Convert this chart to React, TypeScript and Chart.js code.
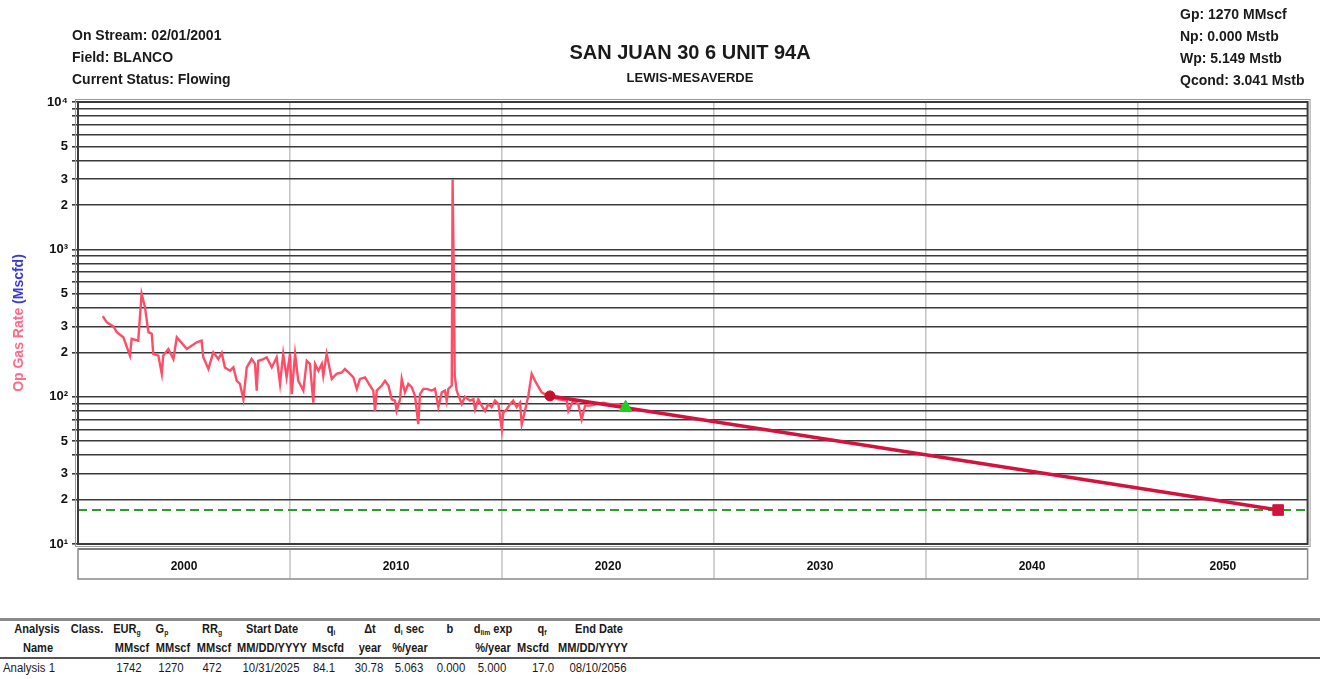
import React, { useEffect, useRef } from 'react';
import { Chart, registerables } from 'chart.js';

Chart.register(...registerables);

// ---------- data ----------
const histYears = [
  2001.17, 2001.35, 2001.67, 2001.83, 2002.14, 2002.45, 2002.53, 2002.84, 2003.0, 2003.16,
  2003.32, 2003.48, 2003.55, 2003.79, 2003.95, 2004.02, 2004.26, 2004.5, 2004.66, 2005.13,
  2005.6, 2005.83, 2005.91, 2006.15, 2006.38, 2006.62, 2006.78, 2006.93, 2007.17, 2007.33,
  2007.49, 2007.64, 2007.8, 2007.96, 2008.19, 2008.35, 2008.43, 2008.5, 2008.74, 2008.9,
  2009.14, 2009.37, 2009.53, 2009.68, 2009.84, 2010.0, 2010.08, 2010.24, 2010.39, 2010.55,
  2010.63, 2010.79, 2010.94, 2011.1, 2011.18, 2011.34, 2011.5, 2011.57, 2011.73, 2011.97,
  2012.2, 2012.44, 2012.59, 2012.83, 2012.99, 2013.15, 2013.3, 2013.54, 2013.77, 2013.93,
  2014.01, 2014.09, 2014.33, 2014.48, 2014.64, 2014.8, 2014.95, 2015.03, 2015.19, 2015.27,
  2015.42, 2015.58, 2015.74, 2015.9, 2016.05, 2016.13, 2016.29, 2016.45, 2016.68, 2016.84,
  2017.0, 2017.16, 2017.31, 2017.39, 2017.47, 2017.63, 2017.67, 2017.73, 2017.77, 2017.86,
  2018.1, 2018.25, 2018.49, 2018.65, 2018.73, 2018.88, 2019.04, 2019.2, 2019.35, 2019.51,
  2019.67, 2019.83, 2019.99, 2020.06, 2020.22, 2020.38, 2020.53, 2020.69, 2020.85, 2020.93,
  2021.08, 2021.24, 2021.4, 2021.56, 2021.87, 2022.08, 2022.26, 2022.66, 2023.05, 2023.13,
  2023.36, 2023.6, 2023.76, 2023.92, 2024.15, 2024.47, 2024.78, 2025.09, 2025.49, 2025.66,
];
const histRates = [
  352, 320, 300, 274, 253, 190, 247, 240, 500, 405,
  274, 267, 195, 190, 143, 190, 211, 180, 253, 211,
  234, 240, 185, 154, 200, 180, 198, 158, 150, 158,
  128, 122, 96, 158, 180, 167, 110, 175, 180, 185,
  158, 185, 122, 195, 135, 195, 104, 195, 128, 116,
  110, 175, 167, 91, 167, 150, 167, 139, 195, 132,
  143, 146, 154, 143, 135, 113, 132, 135, 119, 110,
  80, 110, 119, 128, 119, 96, 94, 80, 96, 132,
  107, 122, 116, 101, 65, 104, 113, 113, 110, 113,
  85, 107, 110, 94, 113, 119, 3000, 580, 140, 110,
  89, 100, 94, 96, 82, 96, 87, 80, 89, 85,
  94, 89, 60, 78, 82, 89, 94, 85, 91, 65,
  80, 101, 143, 128, 107, 103, 101, 96, 94, 80,
  94, 89, 70, 87, 87, 89, 91, 89, 89, 86,
];

// forecast (exponential decline) : fit start, forecast start, end
const fcYears = [2022.26, 2025.83, 2056.61];
const fcRates = [101.2, 84.1, 17.0];
const fitStart = { x: 2022.26, y: 101.2 };
const fcStart = { x: 2025.83, y: 84.1 };
const fcEnd = { x: 2056.61, y: 17.0 };
const econLimit = 17.0;

const xMin = 2000;
const xMax = 2058;
const gridYears = [2010, 2020, 2030, 2040, 2050];
const yearLabelPos = [2005, 2015, 2025, 2035, 2045, 2054];
const yearLabels = ['2000', '2010', '2020', '2030', '2040', '2050'];
const xTickValues = [2000, 2005, 2010, 2015, 2020, 2025, 2030, 2035, 2040, 2045, 2050, 2054];

const yTickValues = [
  10, 20, 30, 40, 50, 60, 70, 80, 90,
  100, 200, 300, 400, 500, 600, 700, 800, 900,
  1000, 2000, 3000, 4000, 5000, 6000, 7000, 8000, 9000, 10000,
];
const yTickLabels = [
  '10¹', '2', '3', '', '5', '', '', '', '',
  '10²', '2', '3', '', '5', '', '', '', '',
  '10³', '2', '3', '', '5', '', '', '', '', '10⁴',
];

const headerLeft = ['On Stream: 02/01/2001', 'Field: BLANCO', 'Current Status: Flowing'];
const headerRight = ['Gp: 1270 MMscf', 'Np: 0.000 Mstb', 'Wp: 5.149 Mstb', 'Qcond: 3.041 Mstb'];
const chartTitle = 'SAN JUAN 30 6 UNIT 94A';
const chartSubtitle = 'LEWIS-MESAVERDE';

type Cell = { t: string; s?: string; a?: string };
const tableHead1: Cell[] = [
  { t: 'Analysis' }, { t: 'Class.' }, { t: 'EUR', s: 'g' }, { t: 'G', s: 'p' }, { t: 'RR', s: 'g' },
  { t: 'Start Date' }, { t: 'q', s: 'i' }, { t: 'Δt' }, { t: 'd', s: 'i', a: ' sec' }, { t: 'b' },
  { t: 'd', s: 'lim', a: ' exp' }, { t: 'q', s: 'f' }, { t: 'End Date' },
];
const tableHead2 = ['Name', '', 'MMscf', 'MMscf', 'MMscf', 'MM/DD/YYYY', 'Mscfd', 'year', '%/year', '', '%/year', 'Mscfd', 'MM/DD/YYYY'];
const tableRow = ['Analysis 1', '', '1742', '1270', '472', '10/31/2025', '84.1', '30.78', '5.063', '0.000', '5.000', '17.0', '08/10/2056'];

// ---------- layout ----------
const head1X = [37, 87, 127, 162, 212, 272, 331, 370, 409, 450, 493, 542, 599];
const head2X = [38, 87, 132, 173, 214, 272, 328, 370, 410, 450, 493, 533, 593];
const rowX = [29, 87, 129, 171, 212, 271, 324, 369, 409, 451, 492, 543, 598];

const framePlugin = {
  id: 'frame',
  afterDraw(chart: any) {
    const { ctx, chartArea: a, scales } = chart;
    ctx.save();
    ctx.strokeStyle = '#9a9a9a';
    ctx.lineWidth = 1;
    ctx.strokeRect(a.left - 2.5, a.top - 2.5, a.right - a.left + 5, a.bottom - a.top + 5);
    ctx.strokeStyle = '#3a3a3a';
    ctx.lineWidth = 2;
    ctx.strokeRect(a.left, a.top, a.right - a.left, a.bottom - a.top);
    const bt = a.bottom + 5;
    const bb = a.bottom + 35;
    ctx.strokeStyle = '#c4c4c4';
    ctx.lineWidth = 1.5;
    gridYears.forEach((yr) => {
      const px = scales.x.getPixelForValue(yr);
      ctx.beginPath();
      ctx.moveTo(px, bt);
      ctx.lineTo(px, bb);
      ctx.stroke();
    });
    ctx.strokeStyle = '#555';
    ctx.lineWidth = 2;
    ctx.beginPath();
    ctx.moveTo(a.left, bt);
    ctx.lineTo(a.right, bt);
    ctx.stroke();
    ctx.strokeStyle = '#8a8a8a';
    ctx.lineWidth = 1.5;
    ctx.strokeRect(a.left, bt, a.right - a.left, bb - bt);
    ctx.restore();
  },
};

export default function App() {
  const ref = useRef<HTMLCanvasElement>(null);

  useEffect(() => {
    document.body.style.margin = '0';
    const canvas = ref.current;
    if (!canvas) return;
    const hist = histYears.map((x, i) => ({ x, y: histRates[i] }));
    const fc = fcYears.map((x, i) => ({ x, y: fcRates[i] }));
    const chart = new Chart(canvas, {
      type: 'line',
      data: {
        datasets: [
          {
            label: 'start',
            data: [fitStart],
            showLine: false,
            pointStyle: 'circle',
            pointRadius: 5,
            pointBackgroundColor: '#c3102c',
            pointBorderColor: '#c3102c',
            order: 0,
          },
          {
            label: 'fcstart',
            data: [fcStart],
            showLine: false,
            pointStyle: 'triangle',
            pointRadius: 7.5,
            pointBackgroundColor: '#22cc22',
            pointBorderColor: '#22cc22',
            order: 0,
          },
          {
            label: 'end',
            data: [fcEnd],
            showLine: false,
            pointStyle: 'rect',
            pointRadius: 7.5,
            pointBackgroundColor: '#d3123e',
            pointBorderColor: '#d3123e',
            order: 0,
          },
          {
            label: 'Forecast',
            data: fc,
            borderColor: '#d3123e',
            borderWidth: 3.5,
            pointRadius: 0,
            tension: 0,
            order: 1,
          },
          {
            label: 'Op Gas Rate',
            data: hist,
            borderColor: '#ff4d68',
            borderWidth: 2.4,
            pointRadius: 0,
            tension: 0,
            order: 2,
          },
          {
            label: 'Econ limit',
            data: [{ x: xMin, y: econLimit }, { x: xMax, y: econLimit }],
            borderColor: '#2f9a2f',
            borderWidth: 2,
            borderDash: [9, 5],
            pointRadius: 0,
            order: 3,
          },
        ],
      },
      options: {
        responsive: false,
        animation: false,
        devicePixelRatio: 1,
        layout: { padding: { left: 0, top: 102, right: 12.4, bottom: 10 } },
        plugins: { legend: { display: false }, tooltip: { enabled: false }, title: { display: false } },
        scales: {
          x: {
            type: 'linear',
            min: xMin,
            max: xMax,
            border: { display: false },
            afterBuildTicks: (s: any) => {
              s.ticks = xTickValues.map((v) => ({ value: v }));
            },
            afterFit: (s: any) => {
              s.height = 36;
            },
            grid: {
              drawTicks: false,
              lineWidth: 1.5,
              color: (c: any) =>
                c.tick && gridYears.includes(c.tick.value) ? '#c4c4c4' : 'rgba(0,0,0,0)',
            },
            ticks: {
              autoSkip: false,
              maxRotation: 0,
              padding: 15,
              color: '#111',
              font: { family: 'Arial, "Liberation Sans", sans-serif', size: 12, weight: 'bold' },
              callback: (v: any) => {
                const i = yearLabelPos.indexOf(Number(v));
                return i >= 0 ? yearLabels[i] : '';
              },
            },
          },
          y: {
            type: 'logarithmic',
            min: 10,
            max: 10000,
            border: { display: false },
            afterBuildTicks: (s: any) => {
              s.ticks = yTickValues.map((v) => ({ value: v }));
            },
            afterFit: (s: any) => {
              s.width = 78;
            },
            grid: {
              color: '#3a3a3a',
              lineWidth: 1.6,
              drawTicks: true,
              tickLength: 6,
            },
            ticks: {
              autoSkip: false,
              padding: 4,
              color: '#111',
              font: { family: 'Arial, "Liberation Sans", sans-serif', size: 13, weight: 'bold' },
              callback: (v: any) => {
                const i = yTickValues.indexOf(Number(v));
                return i >= 0 ? yTickLabels[i] : '';
              },
            },
          },
        },
      },
      plugins: [framePlugin],
    } as any);
    return () => chart.destroy();
  }, []);

  const font = 'Arial, "Liberation Sans", sans-serif';
  const abs = (x: number, y: number, extra: React.CSSProperties = {}): React.CSSProperties => ({
    position: 'absolute',
    left: x,
    top: y,
    whiteSpace: 'nowrap',
    ...extra,
  });
  const center = (
    cx: number,
    cy: number,
    h: number,
    extra: React.CSSProperties = {},
    sx = 1
  ): React.CSSProperties => ({
    position: 'absolute',
    left: cx,
    top: cy - h / 2,
    height: h,
    lineHeight: `${h}px`,
    transform: `translateX(-50%) scaleX(${sx})`,
    whiteSpace: 'nowrap',
    ...extra,
  });
  const headRowY = [629, 648];
  const dataRowY = 668;
  const subStyle: React.CSSProperties = { fontSize: 8, verticalAlign: 'baseline', position: 'relative', top: 2 };

  return (
    <div
      style={{
        position: 'fixed',
        left: 0,
        top: 0,
        width: 1320,
        height: 679,
        background: '#fff',
        overflow: 'hidden',
        fontFamily: font,
        color: '#1a1a1a',
      }}
    >
      <canvas ref={ref} width={1320} height={590} style={{ position: 'absolute', left: 0, top: 0, width: 1320, height: 590 }} />

      {headerLeft.map((t, i) => (
        <div key={'hl' + i} style={abs(72, 26 + i * 22, { fontSize: 14, fontWeight: 'bold', lineHeight: '18px' })}>
          {t}
        </div>
      ))}
      {headerRight.map((t, i) => (
        <div key={'hr' + i} style={abs(1180, 5 + i * 22, { fontSize: 14, fontWeight: 'bold', lineHeight: '18px' })}>
          {t}
        </div>
      ))}
      <div style={center(690, 52, 24, { fontSize: 20, fontWeight: 'bold' })}>{chartTitle}</div>
      <div style={center(690, 78, 16, { fontSize: 13, fontWeight: 'bold' })}>{chartSubtitle}</div>

      <div
        style={{
          position: 'absolute',
          left: 18 - 90,
          top: 323 - 9,
          width: 180,
          height: 18,
          lineHeight: '18px',
          textAlign: 'center',
          transform: 'rotate(-90deg)',
          fontSize: 14,
          fontWeight: 'bold',
          whiteSpace: 'nowrap',
        }}
      >
        <span style={{ color: '#ff6a88' }}>Op Gas Rate</span> <span style={{ color: '#3b3bd4' }}>(Mscfd)</span>
      </div>

      <div style={{ position: 'absolute', left: 0, top: 618, width: 1320, height: 3, background: '#8a8a8a' }} />
      <div style={{ position: 'absolute', left: 0, top: 657, width: 1320, height: 2, background: '#555' }} />

      {tableHead1.map((c, i) => (
        <div key={'h1' + i} style={center(head1X[i], headRowY[0], 16, { fontSize: 13, fontWeight: 'bold' }, 0.85)}>
          {c.t}
          {c.s ? <span style={subStyle}>{c.s}</span> : null}
          {c.a || ''}
        </div>
      ))}
      {tableHead2.map((t, i) =>
        t ? (
          <div key={'h2' + i} style={center(head2X[i], headRowY[1], 16, { fontSize: 13, fontWeight: 'bold' }, 0.85)}>
            {t}
          </div>
        ) : null
      )}
      {tableRow.map((t, i) =>
        t ? (
          <div key={'r' + i} style={center(rowX[i], dataRowY, 16, { fontSize: 12 }, 0.95)}>
            {t}
          </div>
        ) : null
      )}
    </div>
  );
}
